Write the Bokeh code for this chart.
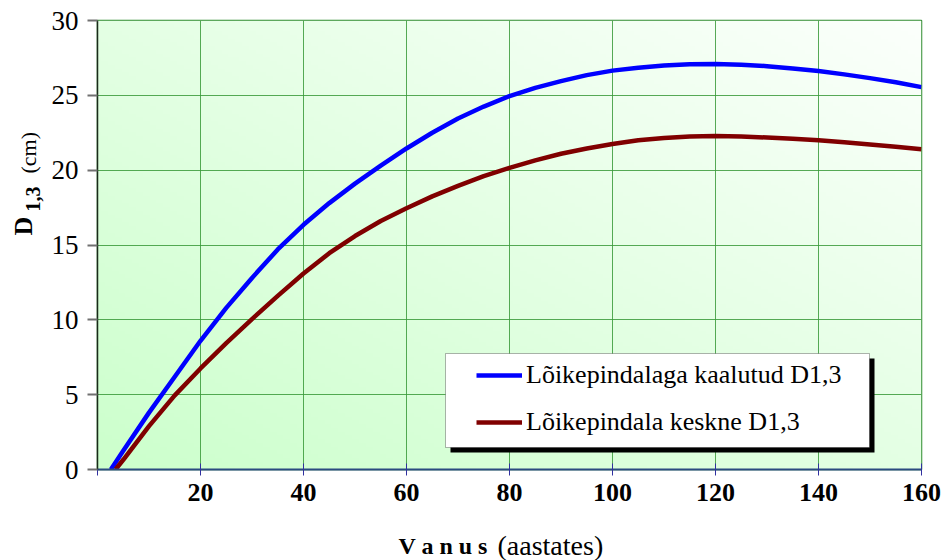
import numpy as np
from bokeh.plotting import figure
from bokeh.layouts import column, row
from bokeh.models import Label, BoxAnnotation, Legend, LegendItem, FixedTicker, Range1d
from bokeh.embed import file_html
from bokeh.resources import INLINE

# ---- data ----
age_weighted = [2.6, 5, 10, 15, 20, 25, 30, 35, 40, 45, 50, 55, 60, 65, 70, 75, 80, 85, 90, 95,
                100, 105, 110, 115, 120, 125, 130, 135, 140, 145, 150, 155, 160]
d_weighted = [0, 1.25, 3.8, 6.2, 8.6, 10.8, 12.8, 14.7, 16.35, 17.8, 19.1, 20.3, 21.45, 22.5,
              23.45, 24.25, 24.95, 25.5, 25.95, 26.35, 26.65, 26.85, 27.0, 27.07, 27.1, 27.05,
              26.95, 26.8, 26.62, 26.4, 26.15, 25.87, 25.55]
age_mean = [3.5, 5, 10, 15, 20, 25, 30, 35, 40, 45, 50, 55, 60, 65, 70, 75, 80, 85, 90, 95,
            100, 105, 110, 115, 120, 125, 130, 135, 140, 145, 150, 155, 160]
d_mean = [0, 0.65, 2.9, 4.95, 6.75, 8.45, 10.05, 11.6, 13.1, 14.45, 15.6, 16.6, 17.45, 18.25,
          18.95, 19.6, 20.15, 20.65, 21.1, 21.45, 21.75, 22.0, 22.15, 22.25, 22.28, 22.25,
          22.18, 22.1, 22.0, 21.87, 21.72, 21.57, 21.4]
x_ticks = [0, 20, 40, 60, 80, 100, 120, 140, 160]
y_ticks = [0, 5, 10, 15, 20, 25, 30]
label_weighted = "Lõikepindalaga kaalutud D1,3"
label_mean = "Lõikepindala keskne D1,3"
title_text = "Puistute vanuse ja rinnasläbimõõdu D1,3 vaheline seos"

X0, X1 = 0, 160
Y0, Y1 = 0, 30
SERIF = "Liberation Serif"


def helper(w, h):
    f = figure(width=w, height=h, output_backend="svg", toolbar_location=None,
               x_axis_type=None, y_axis_type=None, min_border=0,
               x_range=Range1d(0, w), y_range=Range1d(0, h))
    f.outline_line_color = None
    f.background_fill_color = "white"
    f.border_fill_color = "white"
    f.title.visible = False
    return f


def lab(fig, x, y, text, size, bold=False, angle=0.0, align="left"):
    fig.add_layout(Label(x=x, y=y, x_units="screen", y_units="screen", text=text,
                         angle=angle, text_align=align, text_baseline="alphabetic",
                         text_font=SERIF, text_font_style="bold" if bold else "normal",
                         text_font_size=size, text_color="black"))


# ---- main plot ----
p = figure(width=899, height=509, output_backend="svg", toolbar_location=None,
           x_range=Range1d(X0, X1), y_range=Range1d(Y0, Y1),
           min_border_left=52, min_border_right=23, min_border_top=15, min_border_bottom=45)
p.border_fill_color = "white"
p.background_fill_color = "#e6ffe6"

# gradient background (light green lower-left -> near white upper-right)
nx, ny = 240, 120
u = np.linspace(0, 1, nx)[None, :]
v = np.linspace(0, 1, ny)[:, None]
t = (u + v) / 2.0
rb = (204 + (252 - 204) * t).astype(np.uint32)
img = np.empty((ny, nx), dtype=np.uint32)
view = img.view(dtype=np.uint8).reshape((ny, nx, 4))
view[:, :, 0] = rb
view[:, :, 1] = 255
view[:, :, 2] = rb
view[:, :, 3] = 255
p.image_rgba(image=[img], x=X0, y=Y0, dw=X1 - X0, dh=Y1 - Y0, level="image")

# grid
p.xgrid.ticker = FixedTicker(ticks=x_ticks)
p.ygrid.ticker = FixedTicker(ticks=y_ticks)
for g in (p.xgrid, p.ygrid):
    g.grid_line_color = "#3a9a3a"
    g.grid_line_width = 1
    g.grid_line_alpha = 0.85
p.outline_line_color = "#2e8b2e"
p.outline_line_width = 1.5

# axes
xa = p.xaxis[0]
xa.ticker = FixedTicker(ticks=x_ticks)
xa.major_label_overrides = {0: ""}
xa.axis_line_color = "#2b4a80"
xa.axis_line_width = 2
xa.major_tick_line_color = "#3030a0"
xa.major_tick_in = 6
xa.major_tick_out = 6
xa.minor_tick_line_color = None
xa.major_label_text_font = SERIF
xa.major_label_text_font_style = "bold"
xa.major_label_text_font_size = "26px"
xa.major_label_text_color = "black"
xa.major_label_standoff = 8

ya = p.yaxis[0]
ya.ticker = FixedTicker(ticks=y_ticks)
ya.axis_line_color = "#1a2a1a"
ya.axis_line_width = 1.5
ya.major_tick_line_color = "#707070"
ya.major_tick_line_width = 2
ya.major_tick_in = 0
ya.major_tick_out = 10
ya.minor_tick_line_color = None
ya.major_label_text_font = SERIF
ya.major_label_text_font_size = "27px"
ya.major_label_text_color = "black"
ya.major_label_standoff = 9

# curves
r1 = p.line(age_weighted, d_weighted, line_color="#0000ff", line_width=4.5)
r2 = p.line(age_mean, d_mean, line_color="#800000", line_width=4.5)

# legend box with shadow (screen units relative to the frame)
p.add_layout(BoxAnnotation(left=353, right=777, bottom=17, top=111,
                           left_units="screen", right_units="screen",
                           bottom_units="screen", top_units="screen",
                           fill_color="black", fill_alpha=1, line_color=None, level="annotation"))
p.add_layout(BoxAnnotation(left=348, right=772, bottom=22, top=116,
                           left_units="screen", right_units="screen",
                           bottom_units="screen", top_units="screen",
                           fill_color="white", fill_alpha=1, line_color="black",
                           line_width=1, level="annotation"))
legend = Legend(items=[LegendItem(label=label_weighted, renderers=[r1]),
                       LegendItem(label=label_mean, renderers=[r2])],
                location=(379, 32), orientation="vertical",
                background_fill_alpha=0, border_line_color=None,
                padding=6, spacing=17, glyph_width=46, glyph_height=30,
                label_height=30, label_standoff=4,
                label_text_font=SERIF, label_text_font_size="26px",
                label_text_color="black")
p.add_layout(legend)

# ---- title strip (cut off at the top, as in the reference) ----
tfig = helper(944, 5)
lab(tfig, 517, 4.5, title_text, "24px", align="center")

# ---- y-axis title strip (its frame lines up with the plot frame) ----
yfig = helper(45, 509)
lab(yfig, 23, 234, "D", "26px", bold=True, angle=np.pi / 2)
lab(yfig, 32, 258, "1,3", "20px", bold=True, angle=np.pi / 2)
lab(yfig, 28, 296, "(cm)", "22px", angle=np.pi / 2)

# ---- x-axis title strip ----
xfig = helper(944, 46)
lab(xfig, 398, 15, "V a n u s", "24px", bold=True)
lab(xfig, 497, 15, "(aastates)", "28px")

layout = column(tfig, row(yfig, p, spacing=0), xfig, spacing=0)
open("out.html", "w").write(file_html(layout, INLINE))
